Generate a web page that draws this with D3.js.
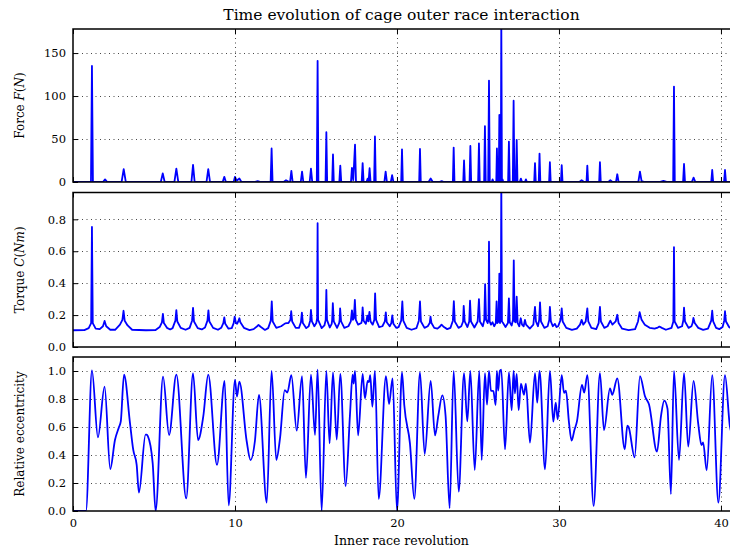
<!DOCTYPE html>
<html><head><meta charset="utf-8">
<script src="https://cdn.jsdelivr.net/npm/d3@7"></script>
<style>body{margin:0;background:#fff}svg{display:block}</style>
</head><body><svg id="c" width="730" height="552"></svg>
<script>
// ---------- data ----------
const xTicks=[0,10,20,30,40];
const forceTicks=[0,50,100,150];
const torqueTicks=[0,0.2,0.4,0.6,0.8];
const eccTicks=[0,0.2,0.4,0.6,0.8,1.0];
const titleText="Time evolution of cage outer race interaction";
const xLabel="Inner race revolution";

const forceData=[
[0,0],
[1.11,0],[1.17,135],[1.23,0],
[1.85,0],[1.98,3],[2.11,0],
[3.0,0],[3.13,15],[3.26,0],
[5.42,0],[5.54,10],[5.66,0],
[6.26,0],[6.38,15.5],[6.5,0],
[7.31,0],[7.41,20],[7.51,0],
[8.24,0],[8.35,15],[8.46,0],
[9.24,0],[9.34,6],[9.44,0],
[9.92,0],[10.0,6],[10.1,1.5],[10.27,4],[10.4,0],
[11.2,0],[11.4,1],[11.6,0],
[12.2,0],[12.26,39],[12.32,0],
[13.0,0],[13.15,2],[13.3,0.5],[13.4,0],[13.48,13],[13.56,0],
[14.06,0],[14.14,12],[14.22,0],
[14.61,0],[14.69,15.5],[14.77,0],
[15.05,0],[15.1,141],[15.15,0],
[15.59,0],[15.64,58],[15.69,0],
[16.0,0],[16.05,32],[16.1,0],
[16.44,0],[16.5,19],[16.56,0],
[17.16,0],[17.22,16.5],[17.3,2],[17.41,43.5],[17.47,0],
[17.82,0],[17.88,22],[17.94,0],
[18.12,0],[18.19,4],[18.25,1],[18.31,16],[18.37,0],
[18.59,0],[18.64,53],[18.69,0],
[19.22,0],[19.3,12],[19.38,0],
[19.62,0],[19.7,8],[19.78,0],
[20.26,0],[20.31,38],[20.36,0],
[21.37,0],[21.42,38.5],[21.47,0],
[21.95,0],[22.08,4],[22.21,0],
[22.6,0],[22.76,1],[22.9,0],
[23.45,0],[23.5,40],[23.55,0],
[24.09,0],[24.14,25],[24.19,0],
[24.48,0],[24.53,42],[24.58,0],
[25.01,0],[25.06,45],[25.11,0],
[25.38,0],[25.43,65],[25.48,0],
[25.63,0],[25.68,118],[25.73,0],
[25.85,0],[25.9,3],[25.95,0.5],
[26.13,0],[26.17,39],[26.21,0],
[26.28,0],[26.32,78],[26.36,1],[26.41,1],[26.44,190],[26.48,0],[26.52,3],[26.56,0],
[26.86,0],[26.91,47],[26.96,0],
[27.15,0],[27.2,94.5],[27.25,0],[27.34,0],[27.39,49],[27.44,0],
[27.58,0],[27.65,4],[27.72,0],
[27.9,0],[27.96,3],[28.02,0],
[28.47,0],[28.52,22],[28.57,0],
[28.75,0],[28.8,33],[28.85,0],
[29.39,0],[29.44,23],[29.49,0],
[30.12,0],[30.17,19.5],[30.22,0],
[31.25,0],[31.4,2],[31.55,0],
[31.7,0],[31.75,19],[31.8,0],
[32.48,0],[32.53,23],[32.58,0],
[33.05,0],[33.17,2],[33.3,0],
[33.52,0],[33.6,9],[33.68,0],
[34.9,0],[35.0,12],[35.1,1],[35.3,0],
[36.2,0],[36.45,1.2],[36.7,0],
[37.05,0],[37.1,111],[37.15,0],
[37.66,0],[37.72,21],[37.78,0],
[38.2,0],[38.31,5],[38.42,0],
[39.4,0],[39.46,14],[39.52,0],
[40.19,0],[40.25,14],[40.31,0],
[40.62,0]
];

const torqueData=[
[0,.105],[0.7,.106],[0.97,.118],[1.12,.15],[1.17,.752],[1.22,.15],[1.4,.115],
[1.65,.112],[1.85,.13],[1.95,.163],[2.05,.13],[2.3,.108],
[2.6,.108],[2.9,.14],[3.05,.17],[3.12,.227],[3.19,.165],[3.37,.135],[3.65,.108],
[4.5,.105],
[5.1,.106],[5.35,.125],[5.49,.155],[5.55,.208],[5.61,.15],[5.8,.12],[6.0,.11],
[6.15,.118],[6.32,.165],[6.38,.231],[6.44,.16],[6.65,.12],[6.95,.108],
[7.2,.12],[7.35,.165],[7.41,.245],[7.47,.16],[7.7,.118],[7.95,.11],
[8.15,.122],[8.3,.165],[8.36,.229],[8.42,.16],[8.65,.12],[8.95,.108],
[9.15,.12],[9.28,.15],[9.34,.185],[9.4,.145],[9.6,.115],[9.8,.118],
[9.92,.15],[9.98,.19],[10.06,.15],[10.13,.145],[10.2,.16],[10.27,.18],[10.33,.155],[10.55,.12],[10.9,.106],
[11.15,.112],[11.35,.128],[11.45,.138],[11.6,.125],[11.85,.107],
[12.05,.118],[12.21,.165],[12.27,.286],[12.33,.16],[12.55,.12],[12.85,.13],
[13.1,.148],[13.2,.15],[13.3,.15],[13.42,.17],[13.47,.224],[13.53,.16],[13.75,.12],[13.95,.12],
[14.07,.155],[14.13,.215],[14.19,.15],[14.4,.118],[14.55,.13],
[14.64,.165],[14.69,.232],[14.75,.16],[14.9,.13],[15.02,.15],
[15.07,.18],[15.1,.776],[15.13,.17],[15.35,.118],[15.52,.135],
[15.6,.17],[15.64,.357],[15.68,.17],[15.85,.122],[15.97,.145],
[16.0,.17],[16.04,.274],[16.1,.16],[16.3,.12],[16.43,.15],
[16.46,.17],[16.49,.242],[16.55,.16],[16.75,.12],[17.0,.13],[17.15,.16],
[17.22,.23],[17.28,.17],[17.34,.18],[17.4,.295],[17.46,.17],[17.6,.14],[17.8,.15],
[17.84,.17],[17.88,.248],[17.94,.165],[18.08,.145],[18.17,.196],[18.23,.16],[18.3,.22],[18.37,.16],[18.5,.14],[18.6,.17],
[18.65,.336],[18.71,.17],[18.9,.125],[19.1,.13],[19.25,.16],
[19.31,.217],[19.37,.155],[19.55,.13],[19.65,.15],
[19.71,.198],[19.78,.145],[19.95,.12],[20.1,.125],[20.26,.165],
[20.33,.285],[20.39,.165],[20.6,.12],[20.9,.108],[21.2,.118],[21.35,.165],
[21.42,.285],[21.48,.16],[21.7,.12],[21.9,.13],[22.02,.15],
[22.07,.19],[22.13,.15],[22.3,.12],[22.5,.115],[22.62,.125],
[22.75,.14],[22.9,.125],[23.1,.112],[23.3,.12],[23.45,.165],
[23.51,.287],[23.57,.16],[23.8,.12],[23.97,.13],[24.08,.16],
[24.12,.258],[24.18,.16],[24.35,.125],[24.46,.16],
[24.51,.29],[24.57,.16],[24.78,.122],[24.98,.16],
[25.06,.30],[25.12,.16],[25.3,.13],[25.39,.17],
[25.44,.393],[25.5,.17],[25.6,.15],[25.65,.18],
[25.68,.66],[25.72,.16],[25.8,.14],[25.9,.155],[26.0,.13],[26.1,.15],
[26.15,.286],[26.2,.15],[26.27,.16],[26.32,.46],[26.36,.15],[26.41,.2],[26.44,1.05],[26.48,.16],[26.55,.15],[26.7,.125],[26.85,.15],
[26.91,.305],[26.96,.155],[27.08,.135],[27.16,.17],[27.21,.543],[27.26,.16],[27.33,.155],[27.39,.315],[27.45,.15],[27.55,.13],
[27.64,.18],[27.72,.14],[27.82,.13],[27.9,.17],[27.97,.14],[28.2,.115],[28.42,.14],
[28.52,.252],[28.58,.16],[28.7,.13],[28.78,.17],[28.83,.28],[28.89,.16],[29.1,.12],[29.3,.13],[29.4,.17],
[29.44,.252],[29.5,.16],[29.62,.13],[29.75,.145],[29.85,.125],[29.95,.13],[30.1,.17],
[30.17,.242],[30.23,.16],[30.45,.12],[30.8,.107],[31.1,.115],[31.3,.14],
[31.4,.17],[31.5,.14],[31.65,.16],[31.75,.242],[31.81,.16],[32.0,.12],[32.3,.112],[32.45,.15],
[32.53,.252],[32.59,.16],[32.8,.12],[33.0,.13],[33.17,.165],[33.3,.14],[33.5,.16],
[33.6,.202],[33.68,.15],[33.9,.115],[34.3,.106],[34.7,.112],[34.88,.16],
[34.98,.218],[35.1,.17],[35.3,.14],[35.6,.12],[35.9,.115],
[36.1,.122],[36.2,.128],[36.35,.12],[36.6,.108],[36.95,.12],[37.06,.16],
[37.1,.625],[37.14,.16],[37.35,.12],[37.6,.13],[37.68,.17],
[37.72,.247],[37.78,.16],[38.0,.12],[38.18,.13],[38.25,.15],
[38.3,.182],[38.38,.15],[38.6,.12],[38.9,.107],[39.2,.115],[39.4,.165],
[39.46,.227],[39.52,.16],[39.7,.12],[39.9,.112],[40.1,.125],[40.2,.165],
[40.25,.224],[40.31,.16],[40.5,.125],[40.62,.118]
];

const eccData=[
[0,0],[0.8,0],[1.17,1.005],[1.54,.526],[1.95,.888],[2.30,.30],[2.59,.507],[2.84,.60],[2.95,.64],
[3.15,.974],[3.52,.626],[3.72,.436],[3.93,.33],[4.07,.131],[4.48,.545],[4.55,.545],[4.62,.535],
[4.92,.34],[5.1,0],[5.56,.96],[5.93,.543],[6.38,.974],[6.99,.09],[7.41,.983],[7.72,.507],
[8.04,.674],[8.35,.974],[8.89,.329],[9.36,.93],[9.61,.04],[10.0,.936],[10.12,.817],[10.27,.924],
[10.72,.5],[10.96,.364],[11.23,.5],[11.48,.829],[11.96,.06],[12.26,1.0],[12.55,.364],[12.78,.52],
[13.07,.864],[13.23,.846],[13.48,.97],[13.81,.574],[14.14,.964],[14.38,.236],[14.69,.974],
[14.94,.543],[15.1,1.01],[15.35,0],[15.64,1.0],[15.84,.483],[16.05,.99],[16.28,.51],[16.5,.98],
[16.83,.178],[17.1,.69],[17.26,.974],[17.33,.91],[17.41,1.0],[17.6,.54],[17.88,.98],[18.02,.805],
[18.19,.93],[18.27,.92],[18.35,.97],[18.48,.745],[18.64,1.0],[18.87,.086],[19.32,.964],[19.51,.764],
[19.73,.948],[20.0,0],[20.31,.99],[20.45,.757],[20.8,.483],[21.07,.086],[21.42,.99],[21.71,.407],
[22.08,.93],[22.35,.54],[22.55,.68],[22.8,.826],[23.0,.68],[23.25,.02],[23.5,1.0],[23.81,.138],
[24.14,.985],[24.34,.64],[24.53,1.0],[24.8,.293],[25.08,1.0],[25.23,.364],[25.43,.985],[25.56,.76],
[25.68,1.0],[25.8,.86],[25.95,.857],[26.09,.757],[26.17,1.0],[26.25,.86],[26.35,1.0],[26.44,1.01],
[26.67,.44],[26.91,.99],[27.08,.72],[27.2,1.0],[27.28,.84],[27.39,.98],[27.51,.72],[27.65,.91],
[27.84,.83],[27.96,.91],[28.21,.488],[28.52,.985],[28.66,.774],[28.8,1.0],[29.14,.298],[29.44,1.0],
[29.65,.638],[29.8,.774],[29.92,.655],[30.17,.97],[30.31,.844],[30.43,.86],[30.62,.63],[30.78,.502],
[30.95,.576],[31.11,.64],[31.42,.90],[31.56,.845],[31.75,.97],[32.14,.036],[32.53,.985],[32.78,.578],
[33.15,.876],[33.29,.83],[33.6,.948],[34.06,.44],[34.22,.61],[34.3,.60],[34.67,.383],[35.0,.964],
[35.31,.82],[35.56,.76],[36.05,.424],[36.3,.68],[36.5,.788],[36.7,.73],[36.91,.12],[37.1,1.0],
[37.41,.364],[37.72,.985],[37.98,.46],[38.31,.93],[38.6,.62],[38.8,.47],[38.9,.49],[39.12,.29],
[39.46,.97],[39.84,.06],[40.25,.97],[40.56,.60],[40.62,.57]
];

// ---------- layout ----------
const svg=d3.select("#c");
const FONT="DejaVu Serif";
const left=73, right=731;
const x=d3.scaleLinear().domain([0,40.62]).range([left,right]);

svg.append("text").attr("x",(left+730)/2).attr("y",20).attr("text-anchor","middle")
  .attr("font-family",FONT).attr("font-size",15.5).text(titleText);

const panels=[
 {top:29,bottom:182,dom:[0,178],ticks:forceTicks,fmt:d3.format("d"),data:forceData,curve:d3.curveLinear,
  label:[["Force ",""],["F","italic"],["(",""],["N","italic"],[")",""]],xLabels:false},
 {top:192.5,bottom:347,dom:[0,0.968],ticks:torqueTicks,fmt:d3.format(".1f"),data:torqueData,curve:d3.curveLinear,
  label:[["Torque ",""],["C","italic"],["(",""],["Nm","italic"],[")",""]],xLabels:false},
 {top:357,bottom:511,dom:[0,1.1],ticks:eccTicks,fmt:d3.format(".1f"),data:eccData,curve:d3.curveMonotoneX,
  label:[["Relative eccentricity",""]],xLabels:true}
];

panels.forEach((p,i)=>{
  const y=d3.scaleLinear().domain(p.dom).range([p.bottom,p.top]);
  const g=svg.append("g");
  const cid="clip"+i;
  svg.append("clipPath").attr("id",cid).append("rect")
    .attr("x",left).attr("y",p.top).attr("width",right-left).attr("height",p.bottom-p.top);
  // grid
  const grid=g.append("g").attr("stroke","#333").attr("stroke-width",0.9).attr("stroke-dasharray","1,3.5");
  grid.selectAll("line.h").data(p.ticks.filter(t=>y(t)<p.bottom-1&&y(t)>p.top+1)).join("line")
    .attr("x1",left).attr("x2",right).attr("y1",d=>Math.round(y(d))+0.5).attr("y2",d=>Math.round(y(d))+0.5);
  grid.selectAll("line.v").data(xTicks.filter(t=>x(t)>left+1)).join("line")
    .attr("y1",p.top).attr("y2",p.bottom).attr("x1",d=>Math.round(x(d))+0.5).attr("x2",d=>Math.round(x(d))+0.5);
  // data line
  const line=d3.line().x(d=>x(d[0])).y(d=>y(d[1])).curve(p.curve);
  g.append("path").datum(p.data).attr("clip-path","url(#"+cid+")")
    .attr("fill","none").attr("stroke","#0000ff").attr("stroke-width",1.8)
    .attr("stroke-linejoin","round").attr("d",line);
  // axes
  const ya=g.append("g").attr("transform",`translate(${left},0)`)
    .call(d3.axisLeft(y).tickValues(p.ticks).tickFormat(p.fmt).tickSizeInner(-5).tickSizeOuter(0).tickPadding(7));
  const xt=g.append("g").attr("transform",`translate(0,${p.top})`)
    .call(d3.axisTop(x).tickValues(xTicks).tickFormat("").tickSizeInner(-5).tickSizeOuter(0));
  const xb=g.append("g").attr("transform",`translate(0,${p.bottom})`)
    .call(d3.axisBottom(x).tickValues(xTicks).tickFormat(p.xLabels?d3.format("d"):"").tickSizeInner(-5).tickSizeOuter(0).tickPadding(8));
  [ya,xt,xb].forEach(a=>{
    a.select(".domain").remove();
    a.selectAll(".tick line").attr("stroke","#000").attr("stroke-width",1);
    a.selectAll("text").attr("font-family",FONT).attr("font-size",11.5).attr("fill","#000");
  });
  // frame
  g.append("rect").attr("x",left).attr("y",p.top).attr("width",right-left).attr("height",p.bottom-p.top)
    .attr("fill","none").attr("stroke","#000").attr("stroke-width",1.5);
  // y label
  const t=g.append("text").attr("transform",`translate(24,${(p.top+p.bottom)/2}) rotate(-90)`)
    .attr("text-anchor","middle").attr("font-family",FONT).attr("font-size",12);
  p.label.forEach(([s,st])=>t.append("tspan").attr("font-style",st||null).text(s));
});

svg.append("text").attr("x",(left+730)/2).attr("y",545).attr("text-anchor","middle")
  .attr("font-family",FONT).attr("font-size",12.5).text(xLabel);
</script></body></html>
